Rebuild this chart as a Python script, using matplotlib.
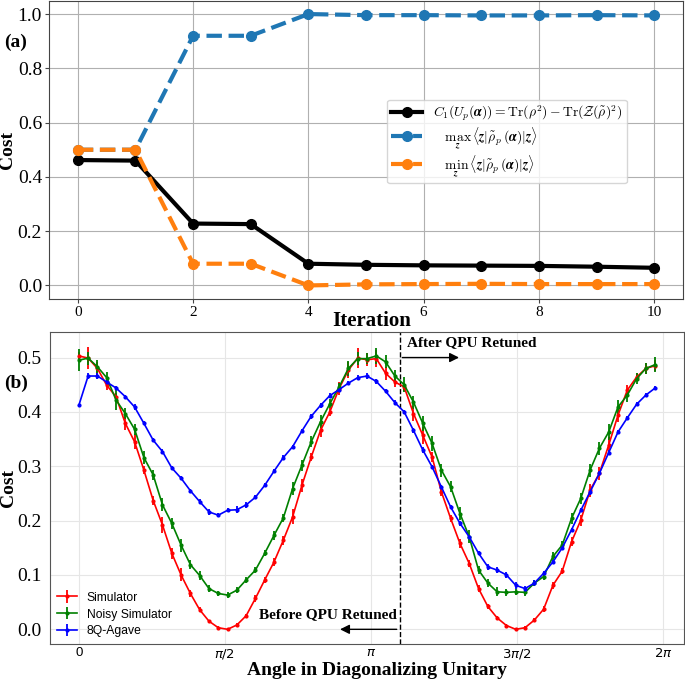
import numpy as np
import matplotlib.pyplot as plt

plt.rcParams['font.family'] = ['Liberation Serif', 'DejaVu Serif']
plt.rcParams['mathtext.fontset'] = 'dejavusans'

# (a) cost vs iteration
iters = [0, 1, 2, 3, 4, 5, 6, 7, 8, 9, 10]
cost_c1 = [0.462, 0.460, 0.228, 0.226, 0.080, 0.076, 0.074, 0.073, 0.072, 0.069, 0.065]
cost_max = [0.50, 0.50, 0.920, 0.920, 1.000, 0.996, 0.996, 0.995, 0.995, 0.996, 0.995]
cost_min = [0.50, 0.50, 0.080, 0.080, 0.000, 0.004, 0.005, 0.006, 0.005, 0.005, 0.005]

# (b) cost vs angle, steps of 0.1 rad from 0 to 6.2
angles = [round(0.1 * i, 1) for i in range(63)]
sim = [0.503, 0.499, 0.480, 0.449, 0.428, 0.379, 0.345, 0.293, 0.237, 0.192,
       0.140, 0.100, 0.066, 0.036, 0.015, 0.003, 0.000, 0.008, 0.025, 0.057,
       0.091, 0.124, 0.164, 0.207, 0.265, 0.317, 0.366, 0.400, 0.443, 0.477,
       0.499, 0.496, 0.498, 0.471, 0.455, 0.446, 0.397, 0.357, 0.317, 0.253,
       0.204, 0.158, 0.121, 0.075, 0.042, 0.021, 0.007, 0.000, 0.003, 0.017,
       0.037, 0.081, 0.107, 0.161, 0.201, 0.256, 0.287, 0.339, 0.394, 0.440,
       0.464, 0.480, 0.485]
sim_err = [0.008, 0.020, 0.012, 0.008, 0.006, 0.012, 0.014, 0.008, 0.008, 0.014,
           0.010, 0.012, 0.006, 0.005, 0.003, 0.003, 0.002, 0.003, 0.004, 0.006,
           0.006, 0.008, 0.008, 0.014, 0.012, 0.008, 0.012, 0.008, 0.012, 0.015,
           0.018, 0.012, 0.015, 0.012, 0.010, 0.008, 0.014, 0.016, 0.010, 0.008,
           0.006, 0.008, 0.006, 0.006, 0.005, 0.004, 0.003, 0.002, 0.003, 0.003,
           0.005, 0.006, 0.006, 0.008, 0.010, 0.012, 0.012, 0.014, 0.012, 0.010,
           0.008, 0.010, 0.010]
noisy = [0.495, 0.499, 0.483, 0.463, 0.422, 0.397, 0.368, 0.316, 0.284, 0.229,
         0.195, 0.155, 0.119, 0.099, 0.075, 0.066, 0.063, 0.072, 0.091, 0.109,
         0.140, 0.173, 0.205, 0.259, 0.302, 0.345, 0.382, 0.415, 0.446, 0.480,
         0.498, 0.498, 0.503, 0.492, 0.466, 0.450, 0.418, 0.379, 0.342, 0.293,
         0.262, 0.213, 0.170, 0.109, 0.085, 0.069, 0.068, 0.069, 0.068, 0.085,
         0.097, 0.134, 0.155, 0.204, 0.241, 0.293, 0.333, 0.363, 0.409, 0.431,
         0.461, 0.480, 0.487]
noisy_err = [0.020, 0.012, 0.012, 0.010, 0.018, 0.010, 0.010, 0.012, 0.010, 0.012,
             0.010, 0.012, 0.008, 0.008, 0.006, 0.005, 0.006, 0.005, 0.005, 0.006,
             0.006, 0.008, 0.008, 0.012, 0.010, 0.010, 0.012, 0.008, 0.008, 0.014,
             0.012, 0.010, 0.014, 0.012, 0.012, 0.014, 0.012, 0.014, 0.014, 0.012,
             0.010, 0.012, 0.012, 0.008, 0.008, 0.008, 0.006, 0.006, 0.006, 0.006,
             0.006, 0.008, 0.008, 0.010, 0.010, 0.012, 0.012, 0.014, 0.012, 0.012,
             0.010, 0.010, 0.014]
agave = [0.412, 0.466, 0.466, 0.455, 0.444, 0.428, 0.409, 0.379, 0.348, 0.327,
         0.297, 0.278, 0.255, 0.235, 0.216, 0.210, 0.219, 0.220, 0.229, 0.243,
         0.265, 0.291, 0.316, 0.336, 0.365, 0.392, 0.412, 0.430, 0.441, 0.453,
         0.463, 0.466, 0.456, 0.438, 0.417, 0.400, 0.366, 0.330, 0.299, 0.262,
         0.225, 0.195, 0.170, 0.140, 0.115, 0.109, 0.100, 0.081, 0.075, 0.085,
         0.103, 0.124, 0.150, 0.183, 0.219, 0.253, 0.287, 0.325, 0.363, 0.389,
         0.414, 0.431, 0.444]
agave_err = [0.002, 0.005, 0.005, 0.004, 0.004, 0.004, 0.005, 0.004, 0.004, 0.004,
             0.004, 0.004, 0.004, 0.004, 0.005, 0.004, 0.004, 0.006, 0.006, 0.004,
             0.004, 0.004, 0.004, 0.004, 0.004, 0.005, 0.004, 0.004, 0.004, 0.004,
             0.004, 0.005, 0.005, 0.004, 0.004, 0.004, 0.004, 0.005, 0.004, 0.004,
             0.004, 0.004, 0.004, 0.004, 0.005, 0.006, 0.005, 0.006, 0.004, 0.005,
             0.004, 0.004, 0.004, 0.004, 0.004, 0.005, 0.005, 0.005, 0.004, 0.004,
             0.004, 0.004, 0.004]
retune_angle = 3.45

fig = plt.figure(figsize=(6.85, 6.8), dpi=100)

# ---- (a)
ax1 = fig.add_axes([49 / 685, 1 - 299 / 680, 634 / 685, 298.5 / 680])
ax1.plot(iters, cost_c1, '-o', color='black', lw=3, ms=7,
         label=r'$C_1(U_p(\boldsymbol{\alpha})) = \mathrm{Tr}(\rho^2) - \mathrm{Tr}(\mathcal{Z}(\tilde{\rho})^2)$')
ax1.plot(iters, cost_max, '--o', color='#1f77b4', lw=3, ms=7,
         label=r'$\quad\max_{\boldsymbol{z}}\,\langle \boldsymbol{z}|\tilde{\rho}_p(\boldsymbol{\alpha})|\boldsymbol{z}\rangle$')
ax1.plot(iters, cost_min, '--o', color='#ff7f0e', lw=3, ms=7,
         label=r'$\quad\min_{\boldsymbol{z}}\,\langle \boldsymbol{z}|\tilde{\rho}_p(\boldsymbol{\alpha})|\boldsymbol{z}\rangle$')
ax1.set_xlim(-0.5, 10.5)
ax1.set_ylim(-0.05, 1.05)
ax1.set_xticks([0, 2, 4, 6, 8, 10])
ax1.set_yticks([0.0, 0.2, 0.4, 0.6, 0.8, 1.0])
ax1.grid(True, color='#b0b0b0', lw=0.8)
ax1.tick_params(axis='y', labelsize=14, length=3, color='#444444', pad=2)
ax1.tick_params(axis='x', labelsize=11, length=3, color='#444444', pad=2)
for s in ax1.spines.values():
    s.set_color('#444444')
ax1.set_ylabel('Cost', fontsize=14, fontweight='bold')
ax1.yaxis.set_label_coords(-0.052, 0.5)
ax1.set_xlabel('Iteration', fontsize=15, fontweight='bold')
ax1.xaxis.set_label_coords(0.509, -0.04)
leg1 = ax1.legend(loc='center left', bbox_to_anchor=(0.533, 0.528), borderaxespad=0,
                  prop={'size': 9.8, 'math_fontfamily': 'cm'}, handlelength=2.3,
                  labelspacing=0.15, borderpad=0.3, framealpha=0.8, edgecolor='#cccccc')

# ---- (b)
ax2 = fig.add_axes([50 / 685, 1 - 644 / 680, 634 / 685, 312 / 680])
ax2.errorbar(angles, sim, yerr=sim_err, fmt='.-', color='red', lw=1.2, ms=4,
             elinewidth=1.3, label='Simulator')
ax2.errorbar(angles, noisy, yerr=noisy_err, fmt='.-', color='green', lw=1.2, ms=4,
             elinewidth=1.3, label='Noisy Simulator')
ax2.errorbar(angles, agave, yerr=agave_err, fmt='.-', color='blue', lw=1.2, ms=4,
             elinewidth=1.3, label='8Q-Agave')
ax2.axvline(retune_angle, color='black', ls='--', lw=1)
ax2.annotate('', xy=(4.12, 0.5), xytext=(retune_angle, 0.5),
             arrowprops=dict(arrowstyle='-|>', color='black', lw=1, mutation_scale=14))
ax2.annotate('', xy=(2.78, 0.0), xytext=(retune_angle, 0.0),
             arrowprops=dict(arrowstyle='-|>', color='black', lw=1, mutation_scale=14))
ax2.text(3.53, 0.528, 'After QPU Retuned', fontsize=11, fontweight='bold',
         ha='left', va='center')
ax2.text(3.42, 0.027, 'Before QPU Retuned', fontsize=11, fontweight='bold',
         ha='right', va='center')
ax2.set_xlim(-0.31, 6.51)
ax2.set_ylim(-0.027, 0.547)
ax2.set_xticks([0, np.pi / 2, np.pi, 3 * np.pi / 2, 2 * np.pi])
ax2.set_xticklabels(['0', r'$\pi/2$', r'$\pi$', r'$3\pi/2$', r'$2\pi$'],
                    fontfamily='Liberation Sans', fontsize=9.5)
ax2.set_yticks([0.0, 0.1, 0.2, 0.3, 0.4, 0.5])
ax2.grid(True, color='#e6e6e6', lw=0.8)
ax2.tick_params(axis='y', labelsize=14, length=0, pad=6)
ax2.tick_params(axis='x', length=0, pad=2)
for s in ax2.spines.values():
    s.set_color('#555555')
ax2.set_ylabel('Cost', fontsize=14, fontweight='bold')
ax2.yaxis.set_label_coords(-0.052, 0.5)
ax2.set_xlabel('Angle in Diagonalizing Unitary', fontsize=14, fontweight='bold')
ax2.xaxis.set_label_coords(0.516, -0.058)
ax2.legend(loc='lower left', frameon=False, prop={'family': 'Liberation Sans', 'size': 8.7},
           handlelength=1.7, labelspacing=0.4, borderaxespad=0.15)

fig.text(0.006, 1 - 42 / 680, '(a)', fontsize=14, fontweight='bold', va='center')
fig.text(0.006, 1 - 383 / 680, '(b)', fontsize=14, fontweight='bold', va='center')

fig.savefig('out.png', dpi=100)
